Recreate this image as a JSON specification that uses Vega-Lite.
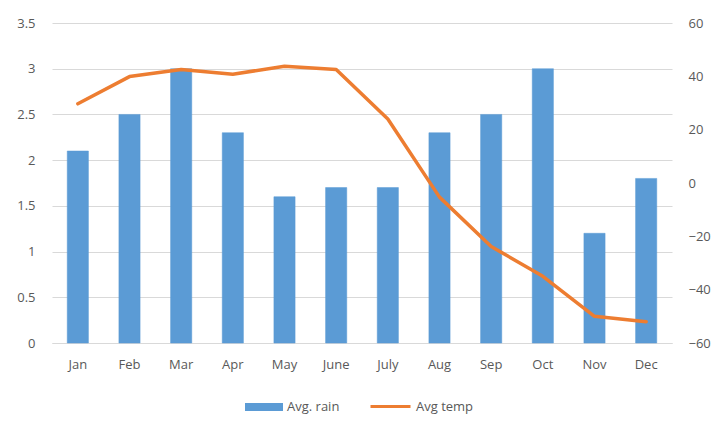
{
  "$schema": "https://vega.github.io/schema/vega-lite/v6.json",
  "autosize": {"type": "none"},
  "width": 620,
  "height": 320,
  "padding": {"left": 52, "top": 23, "right": 53, "bottom": 93},
  "background": "white",
  "config": {
    "font": "Open Sans",
    "view": {"stroke": null},
    "axis": {"labelColor": "#595959", "labelFontSize": 13, "labelFont": "Open Sans", "ticks": false, "domain": false, "title": null},
    "legend": {"labelColor": "#595959", "labelFontSize": 13, "labelFont": "Open Sans"}
  },
  "data": {
    "values": [
      {"month": "Jan", "rain": 2.1, "temp": 29.7},
      {"month": "Feb", "rain": 2.5, "temp": 39.9},
      {"month": "Mar", "rain": 3.0, "temp": 42.6},
      {"month": "Apr", "rain": 2.3, "temp": 40.8},
      {"month": "May", "rain": 1.6, "temp": 43.8},
      {"month": "June", "rain": 1.7, "temp": 42.6},
      {"month": "July", "rain": 1.7, "temp": 24.0},
      {"month": "Aug", "rain": 2.3, "temp": -5.3},
      {"month": "Sep", "rain": 2.5, "temp": -23.8},
      {"month": "Oct", "rain": 3.0, "temp": -35.0},
      {"month": "Nov", "rain": 1.2, "temp": -50.0},
      {"month": "Dec", "rain": 1.8, "temp": -52.0}
    ]
  },
  "encoding": {
    "x": {
      "field": "month",
      "type": "nominal",
      "sort": null,
      "scale": {"paddingInner": 0.59, "paddingOuter": 0.295},
      "axis": {"labelAngle": 0, "labelPadding": 15, "domain": true, "domainColor": "#d9d9d9", "domainWidth": 1, "grid": false}
    }
  },
  "layer": [
    {
      "mark": {"type": "bar", "color": "#5b9bd5", "stroke": "#5b9bd5", "strokeWidth": 0.5},
      "encoding": {
        "y": {
          "field": "rain",
          "type": "quantitative",
          "scale": {"domain": [0, 3.5]},
          "axis": {"values": [0, 0.5, 1, 1.5, 2, 2.5, 3, 3.5], "format": "~g", "labelPadding": 17, "grid": true, "gridColor": "#d9d9d9", "gridWidth": 1}
        },
        "fill": {
          "datum": "Avg. rain",
          "type": "nominal",
          "scale": {"range": ["#5b9bd5"]},
          "legend": {"orient": "none", "legendX": 193, "legendY": 365, "title": null, "symbolType": "M-1,-0.21H1V0.21H-1Z", "symbolSize": 1444, "symbolStrokeWidth": 0, "labelOffset": 4}
        }
      }
    },
    {
      "mark": {"type": "line", "color": "#ed7d31", "strokeWidth": 3.5, "strokeJoin": "round", "strokeCap": "round"},
      "encoding": {
        "y": {
          "field": "temp",
          "type": "quantitative",
          "scale": {"domain": [-60, 60]},
          "axis": {"orient": "right", "values": [-60, -40, -20, 0, 20, 40, 60], "labelPadding": 16, "grid": false}
        },
        "stroke": {
          "datum": "Avg temp",
          "type": "nominal",
          "scale": {"range": ["#ed7d31"]},
          "legend": {"orient": "none", "legendX": 317, "legendY": 362, "title": null, "symbolType": "stroke", "symbolSize": 1600, "symbolStrokeWidth": 3, "labelOffset": 4}
        }
      }
    }
  ],
  "resolve": {"scale": {"y": "independent"}}
}
